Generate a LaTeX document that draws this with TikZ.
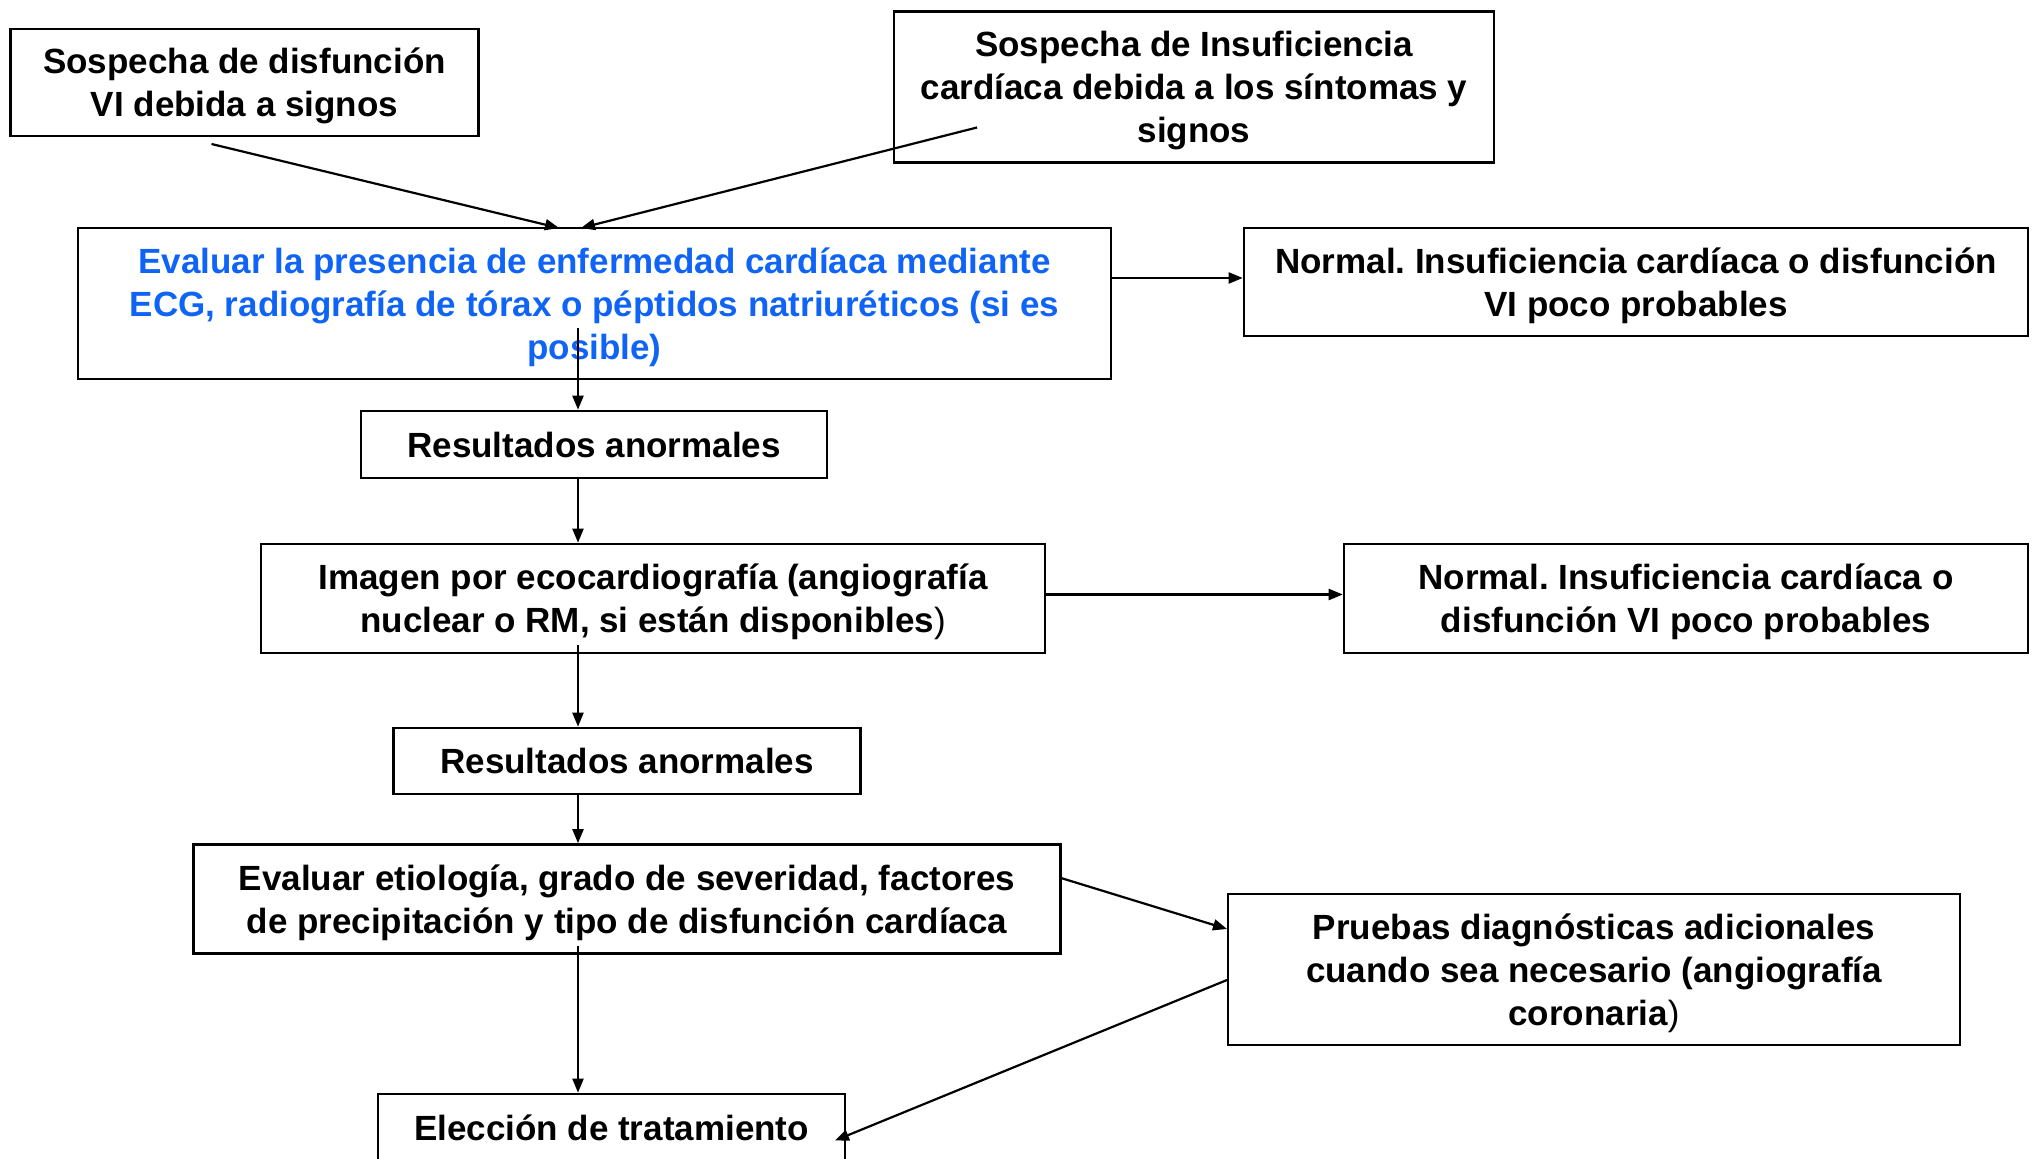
\documentclass[tikz,border=0pt]{standalone}
\usepackage{fontspec}
\setmainfont{Liberation Sans}
\usetikzlibrary{arrows.meta}
\definecolor{evblue}{RGB}{15,100,245}
\frenchspacing
\begin{document}
\begin{tikzpicture}[x=0.5pt,y=-0.5pt,
  box/.style={draw, line width=1.3pt, rectangle, align=center, inner sep=0pt, text depth=0pt,
    font=\fontsize{17.5pt}{21.5pt}\selectfont\bfseries\frenchspacing},
  arr/.style={line width=1.1pt, -{Triangle[length=7pt,width=5.5pt]}}]
\useasboundingbox (0,0) rectangle (2035,1159);
\node[box, minimum width=234pt, minimum height=53.5pt] (A) at (244.5,82.5)
  {Sospecha de disfunción\\VI debida a signos};
\node[box, minimum width=300pt, minimum height=75.5pt] (B) at (1194,87)
  {Sospecha de Insuficiencia\\cardíaca debida a los síntomas y\\signos};
\node[box, minimum width=516.5pt, minimum height=75.5pt, text=evblue] (C) at (594.5,303.5)
  {Evaluar la presencia de enfermedad cardíaca mediante\\ECG, radiografía de tórax o péptidos natriuréticos (si es\\posible)};
\node[box, minimum width=392pt, minimum height=54pt] (D) at (1636,282)
  {Normal. Insuficiencia cardíaca o disfunción\\VI poco probables};
\node[box, minimum width=233pt, minimum height=33.5pt] (E) at (594,444.5)
  {Resultados anormales};
\node[box, minimum width=392pt, minimum height=54.5pt] (F) at (653,598.5)
  {Imagen por ecocardiografía (angiografía\\nuclear o RM, si están disponibles{\mdseries)}};
\node[box, minimum width=342pt, minimum height=54.5pt] (G) at (1686,598.5)
  {Normal. Insuficiencia cardíaca o\\disfunción VI poco probables};
\node[box, minimum width=233.5pt, minimum height=33pt] (H) at (627,761)
  {Resultados anormales};
\node[box, minimum width=433.5pt, minimum height=54.5pt] (I) at (627,899)
  {Evaluar etiología, grado de severidad, factores\\de precipitación y tipo de disfunción cardíaca};
\node[box, minimum width=366pt, minimum height=75.5pt] (J) at (1594,969.5)
  {Pruebas diagnósticas adicionales\\cuando sea necesario (angiografía\\coronaria{\mdseries)}};
\node[box, minimum width=233.5pt, minimum height=34pt] (K) at (611.5,1128)
  {Elección de tratamiento};
% helper coordinates
\coordinate (vx) at (578,0);
\coordinate (a1s) at (211.5,144);
\coordinate (a1e) at (559,228);
\coordinate (a2s) at (977,127.5);
\coordinate (a2e) at (581,228);
\coordinate (cs) at (578,328);
\coordinate (fs) at (578,645);
\coordinate (is) at (578,946);
\coordinate (cd) at (0,278);
\coordinate (fg) at (0,594.5);
\coordinate (ijs) at (1061,878);
\coordinate (ije) at (1227,929);
\coordinate (jks) at (1227,980);
\coordinate (jke) at (835,1140.5);
% connectors
\draw[arr] (a1s) -- (a1e);
\draw[arr] (a2s) -- (a2e);
\draw[arr] (cs) -- (E.north -| vx);
\draw[arr] (E.south -| vx) -- (F.north -| vx);
\draw[arr] (fs) -- (H.north -| vx);
\draw[arr] (H.south -| vx) -- (I.north -| vx);
\draw[arr] (is) -- (K.north -| vx);
\draw[arr] (C.east |- cd) -- (D.west |- cd);
\draw[arr] (F.east |- fg) -- (G.west |- fg);
\draw[arr] (ijs) -- (ije);
\draw[arr] (jks) -- (jke);
\end{tikzpicture}
\end{document}
